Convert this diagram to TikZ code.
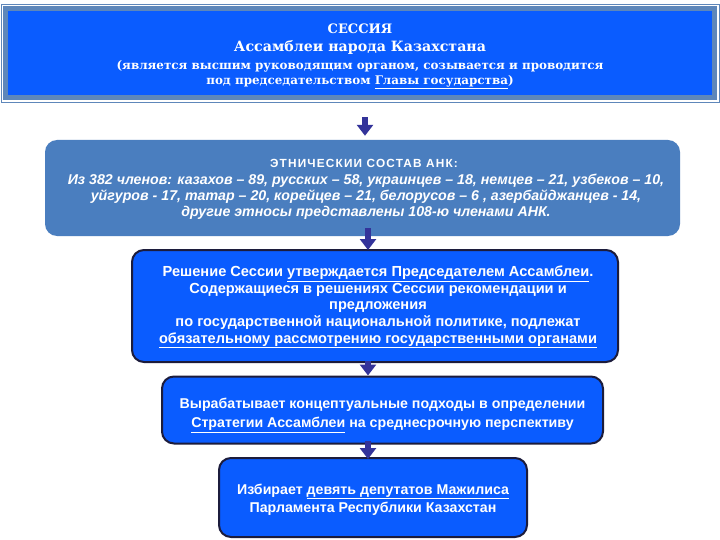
\documentclass[tikz,border=0pt]{standalone}
\usepackage{fontspec}
\setmainfont{Liberation Sans}
\newfontfamily\serifbf{DejaVu Serif}
\newfontfamily\sansls[LetterSpace=10]{Liberation Sans}
\usetikzlibrary{arrows.meta,fit}
\definecolor{brightblue}{HTML}{0A5CFF}
\definecolor{framecol}{HTML}{5E87BA}
\definecolor{steel}{HTML}{4A7EBF}
\definecolor{darkedge}{HTML}{1C1C3C}
\definecolor{arrcol}{HTML}{33339A}
\newcommand\fA{\serifbf\bfseries\fontsize{13}{18}\selectfont}
\newcommand\fB{\serifbf\bfseries\fontsize{14.2}{19}\selectfont}
\newcommand\fC{\serifbf\bfseries\fontsize{11.9}{16}\selectfont}
\newcommand\fT{\sansls\bfseries\fontsize{11.8}{18}\selectfont}
\newcommand\fI{\bfseries\itshape\fontsize{14.2}{15.8}\selectfont}
\newcommand\fS{\bfseries\fontsize{14.2}{17}\selectfont}
\newcommand\fSb{\bfseries\fontsize{14.6}{16.6}\selectfont}
\tikzset{
  bluebox/.style={rectangle, rounded corners=12pt, fill=brightblue, draw=darkedge, line width=2pt, inner sep=0pt},
  boxtext/.style={text=white, align=center, inner sep=0pt},
  arr/.style={draw=arrcol, line width=6pt, -{Triangle[width=16pt,length=11pt]}},
}
\begin{document}
\begin{tikzpicture}[x=1pt,y=-1pt]
\useasboundingbox (0,0) rectangle (720,540);
\fill[white] (0,0) rectangle (720,540);
% top box
\node[rectangle, fill=brightblue, draw=framecol, line width=5pt, minimum width=709pt, minimum height=89pt, inner sep=0pt] (top) at (360,53) {};
\node[fit=(top), inner sep=2pt, draw=framecol, line width=0.8pt] (topframe) {};
\node[boxtext, font=\fA] (t1) at (360,29) {СЕССИЯ};
\node[boxtext, font=\fB] (t2) at (360,47) {Ассамблеи народа Казахстана};
\node[boxtext, font=\fC] (t3) at (360,66) {(является высшим руководящим органом, созывается и проводится};
\node[boxtext, font=\fC] (t4) at (360,82) {под председательством \underline{Главы государства})};
% box 2
\node[rectangle, rounded corners=12pt, fill=steel, minimum width=635pt, minimum height=96pt, inner sep=0pt] (b2) at (362.5,188) {};
\node[boxtext, font=\fT] (b2title) at (364,163.5) {ЭТНИЧЕСКИИ СОСТАВ АНК:};
\node[boxtext, font=\fI] (b2text) at (366,197)
 {Из 382 членов: казахов – 89, русских – 58, украинцев – 18, немцев – 21, узбеков – 10,\\
  уйгуров - 17, татар – 20, корейцев – 21, белорусов – 6 , азербайджанцев - 14,\\
  другие этносы представлены 108-ю членами АНК.};
% box 3
\node[bluebox, minimum width=486pt, minimum height=112pt] (b3) at (375,306) {};
\node[boxtext, font=\fSb] (b3text) at (378,307)
 {Решение Сессии \underline{утверждается Председателем Ассамблеи}.\\
  Содержащиеся в решениях Сессии рекомендации и\\
  предложения\\
  по государственной национальной политике, подлежат\\
  \underline{обязательному рассмотрению государственными органами}};
% box 4
\node[bluebox, minimum width=441pt, minimum height=67pt] (b4) at (382.5,410) {};
\node[boxtext, font=\fS] (b4text) at (382.5,415.5)
 {Вырабатывает концептуальные подходы в определении\\[2pt]
  \underline{Стратегии Ассамблеи} на среднесрочную перспективу};
% box 5
\node[bluebox, minimum width=308pt, minimum height=79pt] (b5) at (373,497.5) {};
\node[boxtext, font=\fS] (b5text) at (373,499.5)
 {Избирает \underline{девять депутатов Мажилиса}\\[1pt]
  Парламента Республики Казахстан};
% arrow x positions
\coordinate (ax1) at (365,0);
\coordinate (ax2) at (368,0);
\draw[arr, shorten <=15pt, shorten >=4pt] (topframe.south -| ax1) -- (b2.north -| ax1);
\draw[arr, shorten <=-8pt, shorten >=-1pt] (b2.south -| ax2) -- (b3.north -| ax2);
\draw[arr, shorten <=-2pt, shorten >=0pt] (b3.south -| ax2) -- (b4.north -| ax2);
\draw[arr, shorten <=-4pt, shorten >=-2pt] (b4.south -| ax2) -- (b5.north -| ax2);
\end{tikzpicture}
\end{document}
